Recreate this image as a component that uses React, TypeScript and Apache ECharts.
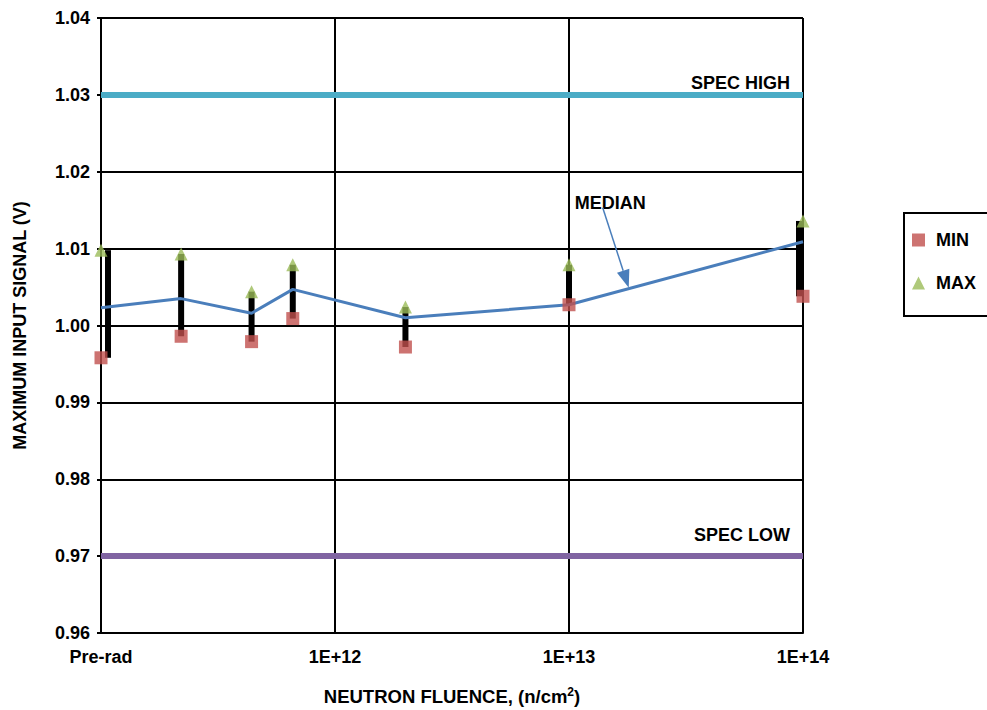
import React, { useEffect, useRef } from "react";
import * as echarts from "echarts";

// Neutron fluence (n/cm^2); the first point is "Pre-rad", drawn at 1E+11
const fluence = [1e11, 2.2e11, 4.4e11, 6.6e11, 2e12, 1e13, 1e14];
const minVals = [0.9958, 0.9986, 0.9979, 1.0009, 0.9972, 1.0027, 1.0038];
const maxVals = [1.0098, 1.0093, 1.0044, 1.0079, 1.0024, 1.0079, 1.0136];
const medianVals = [1.0023, 1.0035, 1.0016, 1.0047, 1.001, 1.0027, 1.0109];
const specHigh = 1.03;
const specLow = 0.97;
const xTickLabels: Record<number, string> = {
  11: "Pre-rad",
  12: "1E+12",
  13: "1E+13",
  14: "1E+14",
};
const medianPointer = [1.8e13, 1.0049];

const FONT = "'Liberation Sans', Arial, sans-serif";

export default function App() {
  const ref = useRef<HTMLDivElement>(null);

  useEffect(() => {
    if (!ref.current) return;
    const chart = echarts.init(ref.current, undefined, { renderer: "svg" });
    const n = fluence.length;

    const option: any = {
      animation: false,
      backgroundColor: "#fff",
      textStyle: { fontFamily: FONT },
      grid: { left: 101, top: 18, right: 184, bottom: 77, containLabel: false, outerBoundsMode: "none" },
      legend: {
        data: ["MIN", "MAX"],
        orient: "vertical",
        left: 904,
        top: 213,
        padding: [18, 22, 24, 8],
        borderColor: "#000",
        borderWidth: 2,
        itemWidth: 13,
        itemHeight: 13,
        itemGap: 25,
        textStyle: {
          fontFamily: FONT,
          fontSize: 18,
          fontWeight: "bold",
          color: "#000",
          padding: [0, 0, 0, 6],
        },
      },
      xAxis: {
        type: "log",
        logBase: 10,
        min: 1e11,
        max: 1e14,
        name: "{t|NEUTRON FLUENCE, (n/cm}{s|2}{t|)}",
        nameLocation: "middle",
        nameGap: 53,
        nameTextStyle: {
          rich: {
            t: { fontFamily: FONT, fontSize: 18.5, fontWeight: "bold", color: "#000", lineHeight: 20, verticalAlign: "bottom" },
            s: { fontFamily: FONT, fontSize: 12, fontWeight: "bold", color: "#000", lineHeight: 20, verticalAlign: "top" },
          },
        },
        axisLine: { show: true, lineStyle: { color: "#000", width: 2 } },
        axisTick: { show: false },
        minorTick: { show: false },
        splitLine: { show: true, lineStyle: { color: "#000", width: 2 } },
        axisLabel: {
          margin: 15,
          fontFamily: FONT,
          fontSize: 18,
          fontWeight: "bold",
          color: "#000",
          formatter: (v: number) => xTickLabels[Math.round(Math.log10(v))] ?? "",
        },
      },
      yAxis: {
        type: "value",
        min: 0.96,
        max: 1.04,
        interval: 0.01,
        name: "MAXIMUM INPUT SIGNAL (V)",
        nameLocation: "middle",
        nameGap: 72,
        nameTextStyle: { fontFamily: FONT, fontSize: 18, fontWeight: "bold", color: "#000" },
        axisLine: { show: true, lineStyle: { color: "#000", width: 2 } },
        axisTick: { show: true, length: 4, lineStyle: { color: "#000", width: 2 } },
        splitLine: { show: true, lineStyle: { color: "#000", width: 2 } },
        axisLabel: {
          margin: 11,
          fontFamily: FONT,
          fontSize: 18,
          fontWeight: "bold",
          color: "#000",
          formatter: (v: number) => v.toFixed(2),
        },
      },
      series: [
        {
          name: "SPEC HIGH",
          type: "line",
          data: [],
          markLine: {
            silent: true,
            symbol: "none",
            lineStyle: { type: "solid", color: "#4BACC6", width: 6 },
            label: {
              show: true,
              position: "insideEndTop",
              formatter: "SPEC HIGH",
              fontFamily: FONT,
              fontSize: 18,
              fontWeight: "bold",
              color: "#000",
              distance: [13, 3],
            },
            data: [{ yAxis: specHigh }],
          },
        },
        {
          name: "SPEC LOW",
          type: "line",
          data: [],
          markLine: {
            silent: true,
            symbol: "none",
            lineStyle: { type: "solid", color: "#8064A2", width: 6 },
            label: {
              show: true,
              position: "insideEndTop",
              formatter: "SPEC LOW",
              fontFamily: FONT,
              fontSize: 18,
              fontWeight: "bold",
              color: "#000",
              distance: [13, 12],
            },
            data: [{ yAxis: specLow }],
          },
        },
        {
          name: "RANGE",
          type: "custom",
          z: 2,
          clip: false,
          data: fluence.map((f, i) => [f, minVals[i], maxVals[i]]),
          encode: { x: 0, y: [1, 2] },
          renderItem: (params: any, api: any) => {
            const x = api.value(0);
            const lo = api.coord([x, api.value(1)]);
            const hi = api.coord([x, api.value(2)]);
            let shift = 0;
            if (params.dataIndex === 0) shift = 7;
            else if (params.dataIndex === n - 1) shift = -4;
            return {
              type: "rect",
              shape: { x: hi[0] - 3 + shift, y: hi[1], width: 6, height: lo[1] - hi[1] },
              style: { fill: "#000" },
            };
          },
        },
        {
          name: "MEDIAN",
          type: "line",
          z: 3,
          clip: false,
          symbol: "none",
          data: fluence.map((f, i) => [f, medianVals[i]]),
          lineStyle: { color: "#4A7EBB", width: 3 },
        },
        {
          name: "MIN",
          type: "scatter",
          z: 4,
          clip: false,
          symbol: "rect",
          symbolSize: 13,
          data: fluence.map((f, i) => [f, minVals[i]]),
          itemStyle: { color: "#C0504D" },
        },
        {
          name: "MAX",
          type: "scatter",
          z: 4,
          clip: false,
          symbol: "triangle",
          symbolSize: [13, 13],
          data: fluence.map((f, i) => [f, maxVals[i]]),
          itemStyle: { color: "#9BBB59" },
        },
      ],
    };

    chart.setOption(option);

    const tip = chart.convertToPixel({ gridIndex: 0 }, medianPointer) as number[];
    if (tip && isFinite(tip[0])) {
      const sx = tip[0] - 26;
      const sy = tip[1] - 80;
      const dx = tip[0] - sx;
      const dy = tip[1] - sy;
      const len = Math.sqrt(dx * dx + dy * dy);
      const ux = dx / len;
      const uy = dy / len;
      const bx = tip[0] - ux * 18;
      const by = tip[1] - uy * 18;
      const px = -uy * 6.5;
      const py = ux * 6.5;
      chart.setOption({
        graphic: [
          {
            type: "text",
            left: tip[0] - 54,
            top: tip[1] - 94,
            style: {
              text: "MEDIAN",
              fontFamily: FONT,
              fontSize: 18,
              fontWeight: "bold",
              fill: "#000",
            },
            z: 10,
          },
          {
            type: "line",
            shape: { x1: sx, y1: sy, x2: bx, y2: by },
            style: { stroke: "#4A7EBB", lineWidth: 1.5 },
            z: 10,
          },
          {
            type: "polygon",
            shape: {
              points: [
                [tip[0], tip[1]],
                [bx + px, by + py],
                [bx - px, by - py],
              ],
            },
            style: { fill: "#4A7EBB" },
            z: 10,
          },
        ],
      });
    }

    return () => chart.dispose();
  }, []);

  return (
    <div
      ref={ref}
      style={{ position: "absolute", left: 0, top: 0, width: 987, height: 710, background: "#fff" }}
    />
  );
}
